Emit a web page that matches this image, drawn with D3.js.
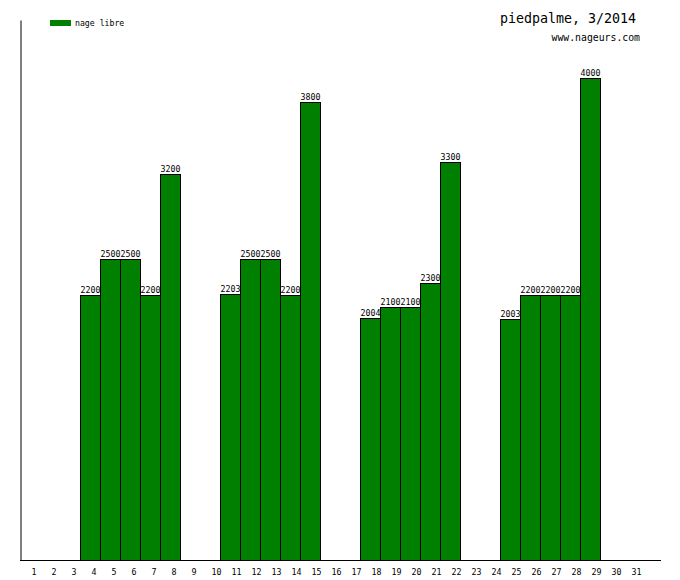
<!DOCTYPE html>
<html><head><meta charset="utf-8">
<script src="https://cdn.jsdelivr.net/npm/d3@7"></script>
<style>body{margin:0;background:#fff}</style>
</head><body>
<svg id="c" width="680" height="580"></svg>
<script>
const days = d3.range(1, 32);
const barDays = [4,5,6,7,8,11,12,13,14,15,18,19,20,21,22,25,26,27,28,29];
const barValues = [2200,2500,2500,2200,3200,2203,2500,2500,2200,3800,2004,2100,2100,2300,3300,2003,2200,2200,2200,4000];
const seriesName = "nage libre";
const title = "piedpalme, 3/2014";
const subtitle = "www.nageurs.com";

const svg = d3.select("#c");
const mono = "'DejaVu Sans Mono', monospace";
const x = d3.scaleLinear().domain([0, 32]).range([20, 660]);
const y = d3.scaleLinear().domain([0, 4480]).range([560, 20]);
const green = "#007f00";

// bars
svg.selectAll("rect.bar").data(barDays.map((d,i)=>({d, v:barValues[i]})))
  .enter().append("rect").attr("class","bar")
  .attr("x", d => x(d.d-1)+0.5).attr("width", x(1)-x(0))
  .attr("y", d => Math.round(y(d.v))+0.5).attr("height", d => 560 - Math.round(y(d.v)))
  .attr("fill", green).attr("stroke", "#000").attr("stroke-width", 1);

// value labels
svg.selectAll("text.val").data(barDays.map((d,i)=>({d, v:barValues[i]})))
  .enter().append("text").attr("class","val")
  .attr("x", d => x(d.d-0.5)+0.5).attr("y", d => Math.round(y(d.v))-2)
  .attr("text-anchor","middle").attr("font-family", mono).attr("font-size", 8.3)
  .attr("fill","#000").text(d => d.v);

// axes
const xAxis = d3.axisBottom(x).tickValues(days.map(d=>d-0.5)).tickSize(0).tickPadding(9)
  .tickFormat((d,i)=>days[i]);
const gx = svg.append("g").attr("transform","translate(0,560.5)").call(xAxis);
gx.select(".domain").attr("d","M20,0H661").attr("stroke","#000");
gx.selectAll("text").attr("font-family", mono).attr("font-size", 8.3).attr("fill","#000")
  .attr("text-anchor","start").attr("dx","1");

const yAxis = d3.axisLeft(y).tickValues([]).tickSizeOuter(0);
const gy = svg.append("g").attr("transform","translate(20.5,0)").call(yAxis);
gy.select(".domain").attr("stroke","#000");

// legend
svg.append("rect").attr("x",50).attr("y",20).attr("width",21).attr("height",6).attr("fill", green);
svg.append("text").attr("x",75).attr("y",25.5).attr("font-family", mono).attr("font-size", 8.2)
  .attr("fill","#000").text(seriesName);

// titles
svg.append("text").attr("x",636).attr("y",23).attr("text-anchor","end")
  .attr("font-family", mono).attr("font-size", 13.3).attr("fill","#000").text(title);
svg.append("text").attr("x",640).attr("y",41).attr("text-anchor","end")
  .attr("font-family", mono).attr("font-size", 9.8).attr("fill","#000").text(subtitle);
</script>
</body></html>
